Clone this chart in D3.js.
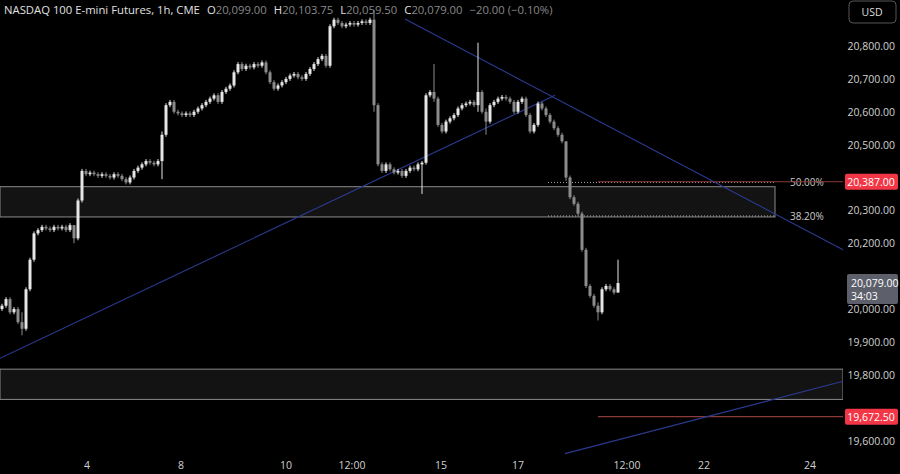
<!DOCTYPE html>
<html><head><meta charset="utf-8">
<script src="https://cdn.jsdelivr.net/npm/d3@7"></script>
<style>body{margin:0;background:#000}svg{display:block}text{font-family:"Open Sans",Roboto,sans-serif}</style>
</head><body><svg id="c" width="900" height="474"></svg>
<script>
const closes=[20010,20030,19990,20000,19960,19940,20060,20150,20230,20240,20250,20245,20240,20250,20245,20250,20240,20255,20215,20330,20420,20410,20415,20410,20405,20410,20405,20400,20410,20405,20395,20385,20400,20420,20430,20440,20450,20445,20440,20450,20530,20620,20630,20600,20595,20590,20595,20590,20600,20610,20620,20630,20640,20650,20630,20660,20670,20680,20720,20745,20730,20740,20735,20745,20740,20750,20720,20690,20670,20680,20690,20700,20710,20715,20705,20700,20715,20730,20745,20760,20770,20740,20860,20880,20870,20860,20865,20870,20865,20870,20875,20870,20880,20620,20440,20420,20440,20425,20415,20420,20405,20420,20430,20425,20440,20445,20650,20660,20640,20560,20540,20570,20580,20590,20610,20620,20625,20630,20620,20660,20600,20570,20620,20630,20640,20645,20640,20630,20600,20630,20640,20590,20540,20560,20625,20610,20590,20570,20550,20530,20510,20400,20340,20320,20290,20180,20070,20040,20010,19990,20060,20070,20060,20050,20079];
const firstOpen=20000;
const wickExtremes={5:[19990,19920],18:[20255,20200],40:[20540,20395],93:[20910,20600],105:[20450,20350],108:[20745,20630],119:[20810,20600],121:[20610,20530],141:[20510,20390],149:[20020,19965],154:[20150,20050]};
const yTicks=[19600,19700,19800,19900,20000,20100,20200,20300,20400,20500,20600,20700,20800];
const xTickLabels=["4","8","10","12:00","15","17","12:00","22","24"];
const xTickIdx=[21.25,44.75,71,87.5,109.75,129,156.25,175.5,202];
const zones=[[20372,20280,775],[19817,19725,843]];
const fibs=[[20385,"50.00%"],[20283,"38.20%"]];
const redLevels=[[20387,"20,387.00"],[19672.5,"19,672.50"]];
const trendLines=[[[-0.5,19850],[138.25,20650]],[[100.75,20882],[210.25,20180]],[[140.75,19560],[210.25,19780]]];
const lastPrice=20079;

const svg=d3.select("#c");
const W=843;
const x=d3.scaleLinear().domain([0,1]).range([2,6]);
const y=d3.scaleLinear().domain([20000,20800]).range([309,46]);
svg.append("rect").attr("width",900).attr("height",474).attr("fill","#000");
const g=svg.append("g");
zones.forEach(z=>{
  g.append("rect").attr("x",0).attr("y",y(z[0])).attr("width",z[2]).attr("height",y(z[1])-y(z[0]))
   .attr("fill","#131313").attr("stroke","#8a8a8a").attr("stroke-width",1);
});
fibs.forEach(f=>{
  g.append("line").attr("x1",x(136.5)).attr("x2",775).attr("y1",y(f[0])).attr("y2",y(f[0]))
   .attr("stroke","#aaa").attr("stroke-dasharray","1,2");
  g.append("text").attr("x",790).attr("y",y(f[0])+4).attr("fill","#ccc").attr("font-size",10).text(f[1]);
});
redLevels.forEach(r=>{
  g.append("line").attr("x1",x(149)).attr("x2",W).attr("y1",y(r[0])).attr("y2",y(r[0])).attr("stroke","#8b3a3a").attr("stroke-width",1.2);
});
trendLines.forEach(t=>{
  g.append("line").attr("x1",x(t[0][0])).attr("y1",y(t[0][1])).attr("x2",x(t[1][0])).attr("y2",y(t[1][1]))
   .attr("stroke","#2b3a8f").attr("stroke-width",1.1);
});
closes.forEach((c,i)=>{
  const o=i===0?firstOpen:closes[i-1];
  const w=wickExtremes[i];
  const hi=w?w[0]:Math.max(o,c)+6, lo=w?w[1]:Math.min(o,c)-6;
  const up=c>=o;
  const col=up?"#e6e6e6":"#8c8c8c";
  g.append("line").attr("x1",x(i)).attr("x2",x(i)).attr("y1",y(hi)).attr("y2",y(lo)).attr("stroke",col).attr("stroke-width",1);
  const top=y(Math.max(o,c)),bot=y(Math.min(o,c));
  g.append("rect").attr("x",x(i)-1.5).attr("y",top).attr("width",3).attr("height",Math.max(1,bot-top)).attr("fill",col);
});
const ax=svg.append("g");
ax.append("rect").attr("x",W).attr("y",0).attr("width",57).attr("height",474).attr("fill","#000");
const occupied=redLevels.map(r=>y(r[0])).concat([y(lastPrice)+6]);
yTicks.forEach(v=>{
  const yy=y(v);
  if(occupied.some(o=>Math.abs(o-yy)<14)) return;
  ax.append("text").attr("x",895).attr("y",yy+4).attr("text-anchor","end").attr("fill","#d0d0d0").attr("font-size",10.5).text(d3.format(",.2f")(v));
});
redLevels.forEach(r=>{
  ax.append("rect").attr("x",845).attr("y",y(r[0])-8).attr("width",53).attr("height",16).attr("rx",2).attr("fill","#f23645");
  ax.append("text").attr("x",871).attr("y",y(r[0])+4).attr("text-anchor","middle").attr("fill","#fff").attr("font-size",10.5).text(r[1]);
});
ax.append("rect").attr("x",847).attr("y",y(lastPrice)-9).attr("width",51).attr("height",30).attr("rx",2).attr("fill","#5d606b");
ax.append("text").attr("x",851).attr("y",y(lastPrice)+4).attr("fill","#fff").attr("font-size",10.5).text(d3.format(",.2f")(lastPrice));
ax.append("text").attr("x",851).attr("y",y(lastPrice)+17).attr("fill","#fff").attr("font-size",10.5).text("34:03");
ax.append("rect").attr("x",849).attr("y",1).attr("width",47).attr("height",22).attr("rx",4).attr("fill","#000").attr("stroke","#555");
ax.append("text").attr("x",872).attr("y",16).attr("text-anchor","middle").attr("fill","#ddd").attr("font-size",10.5).text("USD");
xTickIdx.forEach((t,k)=>{
  svg.append("text").attr("x",x(t)).attr("y",469).attr("text-anchor","middle").attr("fill","#d0d0d0").attr("font-size",10.5).text(xTickLabels[k]);
});
const h=svg.append("text").attr("x",4).attr("y",14).attr("font-size",11.3).style("white-space","pre");
h.append("tspan").attr("fill","#e0e0e0").text("NASDAQ 100 E-mini Futures, 1h, CME");
[["O","20,099.00"],["H","20,103.75"],["L","20,059.50"],["C","20,079.00"]].forEach(p=>{
  h.append("tspan").attr("dx",7).attr("fill","#e0e0e0").text(p[0]);
  h.append("tspan").attr("fill","#888").text(p[1]);
});
h.append("tspan").attr("dx",7).attr("fill","#888").text("−20.00 (−0.10%)");
</script></body></html>
